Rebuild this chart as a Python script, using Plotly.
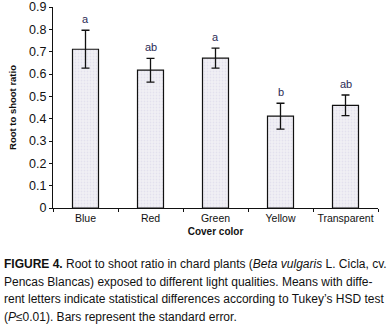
import plotly.graph_objects as go

categories = ["Blue", "Red", "Green", "Yellow", "Transparent"]
means = [0.711, 0.617, 0.671, 0.411, 0.460]
se = [0.085, 0.053, 0.045, 0.058, 0.046]
letters = ["a", "ab", "a", "b", "ab"]
y_ticks = [0, 0.1, 0.2, 0.3, 0.4, 0.5, 0.6, 0.7, 0.8, 0.9]
y_ticktext = ["0", "0.1", "0.2", "0.3", "0.4", "0.5", "0.6", "0.7", "0.8", "0.9"]
caption_lines = [
    "<b>FIGURE 4.</b> Root to shoot ratio in chard plants (<i>Beta vulgaris</i> L. Cicla, cv.",
    "Pencas Blancas) exposed to different light qualities. Means with diffe-",
    "rent letters indicate statistical differences according to Tukey\u2019s HSD test",
    "(<i>P</i>\u22640.01). Bars represent the standard error.",
]

FONT = "Liberation Sans, Arial, sans-serif"

def f(size, color="#111111"):
    return dict(family=FONT, size=size, color=color)

fig = go.Figure()
fig.add_trace(go.Bar(
    x=categories, y=means,
    width=0.4,
    marker=dict(color="#ecebf1", line=dict(color="#111111", width=1.2),
                pattern=dict(shape=".", fgcolor="#d6d2e6", bgcolor="#f1f0f5", size=3, solidity=0.3)),
    error_y=dict(type="data", array=se, visible=True, color="#111111", thickness=1.3, width=4),
    showlegend=False,
))

for c, m, s, l in zip(categories, means, se, letters):
    fig.add_annotation(x=c, y=m + s, text=l, showarrow=False, yanchor="bottom", yshift=3,
                       font=f(11, "#2b2b55"))

plot_left, plot_w = 53, 325
plot_bottom, plot_h = 208, 201
for i, line in enumerate(caption_lines):
    ypix = 264 + 17.5 * i
    fig.add_annotation(xref="paper", yref="paper", x=(2 - plot_left) / plot_w,
                       y=(plot_bottom - ypix) / plot_h,
                       xanchor="left", yanchor="middle", text=line, showarrow=False,
                       align="left", font=f(12))

fig.update_layout(
    width=392, height=325,
    margin=dict(l=53, r=14, t=7, b=117),
    paper_bgcolor="white", plot_bgcolor="white",
    font=f(11),
    bargap=0.6,
    xaxis=dict(showline=True, linecolor="#111111", linewidth=1.2, ticks="outside", ticklen=3,
               tickcolor="#111111", tickson="boundaries", tickfont=f(10.5), tickangle=0,
               title=dict(text="<b>Cover color</b>", font=f(10), standoff=5),
               showgrid=False, zeroline=False, automargin=False),
    yaxis=dict(range=[0, 0.9001], showline=True, linecolor="#111111", linewidth=1.2, ticks="outside",
               ticklen=3, tickcolor="#111111", tickvals=y_ticks, ticktext=y_ticktext,
               tickfont=f(12.5),
               title=dict(text="<b>Root to shoot ratio</b>", font=f(9.5), standoff=10),
               showgrid=False, zeroline=False, automargin=False),
)

fig.write_html("out.html", config={"displayModeBar": False},
               post_script="document.body.style.margin='0';")
